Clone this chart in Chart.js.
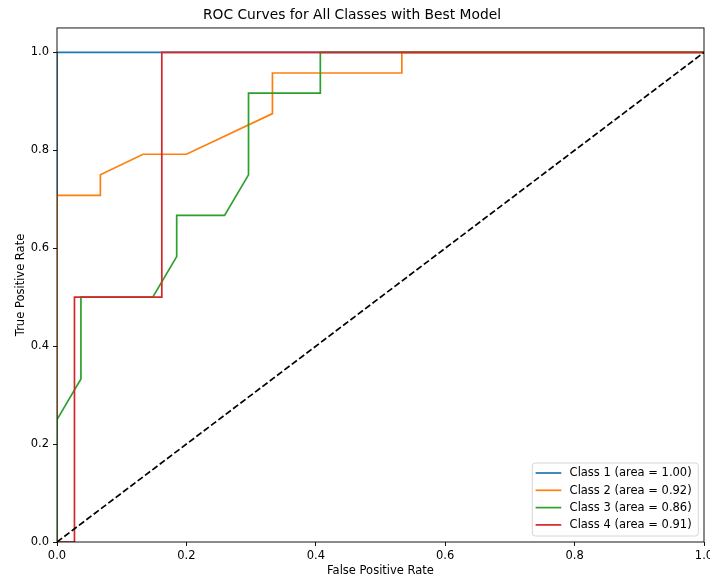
<!DOCTYPE html>
<html>
<head>
<meta charset="utf-8">
<title>ROC Curves</title>
<script src="https://cdn.jsdelivr.net/npm/chart.js@4.4.1/dist/chart.umd.min.js"></script>
<style>
  html, body { margin: 0; padding: 0; background: #fff; }
  #wrap { width: 710px; height: 579px; }
</style>
</head>
<body>
<div id="wrap"><canvas id="roc"></canvas></div>
<script>
// values
const classLabels = ['Class 1 (area = 1.00)', 'Class 2 (area = 0.92)', 'Class 3 (area = 0.86)', 'Class 4 (area = 0.91)'];
const classColors = ['#1f77b4', '#ff7f0e', '#2ca02c', '#d62728'];

const fpr1 = [0, 0, 1];
const tpr1 = [0, 1, 1];

const fpr2 = [0, 0, 0.067, 0.067, 0.133, 0.2, 0.333, 0.333, 0.533, 0.533, 1];
const tpr2 = [0, 0.708, 0.708, 0.75, 0.792, 0.792, 0.875, 0.958, 0.958, 1, 1];

const fpr3 = [0, 0, 0.037, 0.037, 0.148, 0.185, 0.185, 0.259, 0.296, 0.296, 0.407, 0.407, 1];
const tpr3 = [0, 0.25, 0.333, 0.5, 0.5, 0.583, 0.667, 0.667, 0.75, 0.917, 0.917, 1, 1];

const fpr4 = [0, 0.027, 0.027, 0.162, 0.162, 1];
const tpr4 = [0, 0, 0.5, 0.5, 1, 1];

const chanceX = [0, 1];
const chanceY = [0, 1];

const tickValues = [0, 0.2, 0.4, 0.6, 0.8, 1.0];

const FONT = "'DejaVu Sans', sans-serif";
const SMALL = 11.5;

const toPoints = (xs, ys) => xs.map((x, i) => ({ x: x, y: ys[i] }));
const curves = [[fpr1, tpr1], [fpr2, tpr2], [fpr3, tpr3], [fpr4, tpr4]];

const datasets = curves.map((c, i) => ({
  label: classLabels[i],
  data: toPoints(c[0], c[1]),
  borderColor: classColors[i],
  backgroundColor: classColors[i],
  borderWidth: 1.7,
  pointRadius: 0,
  tension: 0,
  fill: false,
  clip: 0,
  order: 5 - i
}));
datasets.push({
  label: 'chance',
  data: toPoints(chanceX, chanceY),
  borderColor: '#000',
  borderWidth: 1.7,
  borderDash: [6.4, 2.8],
  pointRadius: 0,
  fill: false,
  clip: 0,
  order: 0
});

// frame on all four sides, and the legend inside the plot, lower right
const framePlugin = {
  id: 'frameAndLegend',
  afterDraw(chart) {
    const { ctx, chartArea: a } = chart;
    ctx.save();
    ctx.strokeStyle = '#000';
    ctx.lineWidth = 0.92;
    ctx.strokeRect(a.left, a.top, a.right - a.left, a.bottom - a.top);

    const w = 166, h = 73;
    const bx = a.right - 5.7 - w;
    const by = a.bottom - 6 - h;
    ctx.beginPath();
    ctx.roundRect(bx, by, w, h, 3);
    ctx.fillStyle = 'rgba(255,255,255,0.8)';
    ctx.fill();
    ctx.strokeStyle = '#d6d6d6';
    ctx.lineWidth = 1;
    ctx.stroke();

    ctx.font = SMALL + 'px ' + FONT;
    ctx.textBaseline = 'middle';
    ctx.textAlign = 'left';
    for (let i = 0; i < classLabels.length; i++) {
      const ry = by + 10 + i * 17.3;
      ctx.beginPath();
      ctx.moveTo(bx + 3.3, ry);
      ctx.lineTo(bx + 29, ry);
      ctx.strokeStyle = chart.data.datasets[i].borderColor;
      ctx.lineWidth = 1.7;
      ctx.stroke();
      ctx.fillStyle = '#000';
      ctx.fillText(chart.data.datasets[i].label, bx + 37.3, ry + 0.5);
    }
    ctx.restore();
  }
};

new Chart(document.getElementById('roc').getContext('2d'), {
  type: 'line',
  data: { datasets: datasets },
  options: {
    responsive: true,
    maintainAspectRatio: false,
    animation: false,
    layout: { padding: { left: 0, right: 6, top: 0, bottom: 0 } },
    scales: {
      x: {
        type: 'linear',
        min: 0,
        max: 1,
        afterBuildTicks: (s) => { s.ticks = tickValues.map(v => ({ value: v })); },
        afterFit: (s) => { s.height = 37; s.paddingLeft = 0; s.paddingRight = 0; },
        ticks: {
          color: '#000',
          font: { family: FONT, size: SMALL },
          padding: 3,
          maxRotation: 0,
          callback: (v) => Number(v).toFixed(1)
        },
        grid: { display: true, drawOnChartArea: false, drawTicks: true, tickLength: 4, color: '#000', lineWidth: 0.92 },
        border: { display: false },
        title: {
          display: true,
          text: 'False Positive Rate',
          color: '#000',
          font: { family: FONT, size: SMALL },
          padding: { top: 0, bottom: 0.6 }
        }
      },
      y: {
        type: 'linear',
        min: 0,
        max: 1.05,
        afterBuildTicks: (s) => { s.ticks = tickValues.map(v => ({ value: v })); },
        afterFit: (s) => { s.width = 57; },
        ticks: {
          color: '#000',
          font: { family: FONT, size: SMALL },
          padding: 4,
          callback: (v) => Number(v).toFixed(1)
        },
        grid: { display: true, drawOnChartArea: false, drawTicks: true, tickLength: 4, color: '#000', lineWidth: 0.92 },
        border: { display: false },
        title: {
          display: true,
          text: 'True Positive Rate',
          color: '#000',
          font: { family: FONT, size: SMALL },
          padding: { top: 14, bottom: 0 }
        }
      }
    },
    plugins: {
      legend: { display: false },
      tooltip: { enabled: false },
      title: {
        display: true,
        text: 'ROC Curves for All Classes with Best Model',
        color: '#000',
        font: { family: FONT, size: 13.8, weight: 'normal' },
        padding: { top: 6.7, bottom: 4.7 }
      }
    }
  },
  plugins: [framePlugin]
});
</script>
</body>
</html>
